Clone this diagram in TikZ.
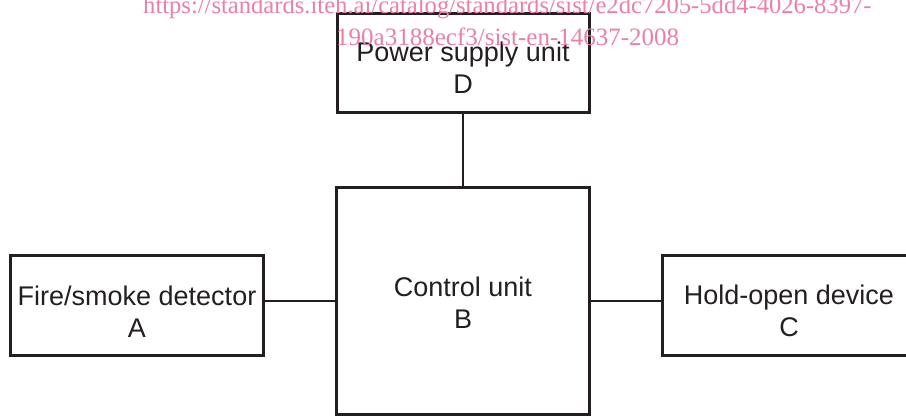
\documentclass[tikz,border=0pt]{standalone}
\usepackage{fontspec}
\setmainfont{Liberation Serif}
\setsansfont{Liberation Sans}
\usepackage{tikz}
\usetikzlibrary{positioning}
\definecolor{inkc}{HTML}{231F20}
\definecolor{markc}{HTML}{EC7FA6}
\newcommand{\topgap}[1]{\rule{0pt}{#1}}
\tikzset{
  box/.style={draw=inkc,line width=3bp,minimum width=253bp,minimum height=100bp,inner sep=0pt,align=center,text=inkc,font=\sffamily\fontsize{27bp}{32bp}\selectfont},
  ln/.style={draw=inkc,line width=1.5bp},
  wm/.style={anchor=base west,inner sep=0pt,text=markc,font=\rmfamily\fontsize{25bp}{30bp}\selectfont}
}

\begin{document}
\begin{tikzpicture}[x=1bp,y=1bp]
\useasboundingbox (0,0) rectangle (906,416);
\node[box,minimum height=227bp] (ctl) at (463,115) {\topgap{22bp}Control unit\\B};
\node[box,minimum width=252bp,minimum height=98.7bp] (psu) at (463,353.3) {\topgap{29bp}Power supply unit\\D};
\node[box] (det) at (137,110.5) {\topgap{31bp}Fire/smoke detector\\A};
\node[box] (hold) at (789,110.5) {\topgap{31bp}Hold-open device\\C};
\draw[ln] (psu) -- (ctl);
\draw[ln] (ctl.west) -- (ctl.west -| det.east);
\draw[ln] (ctl.east) -- (ctl.east -| hold.west);
\node[wm,font=\rmfamily\fontsize{24.6bp}{30bp}\selectfont] (url1) at (143,402) {https://standards.iteh.ai/catalog/standards/sist/e2dc7205-5dd4-4026-8397-};
\node[wm] (url2) at (336,371) {190a3188ecf3/sist-en-14637-2008};
\end{tikzpicture}
\end{document}
